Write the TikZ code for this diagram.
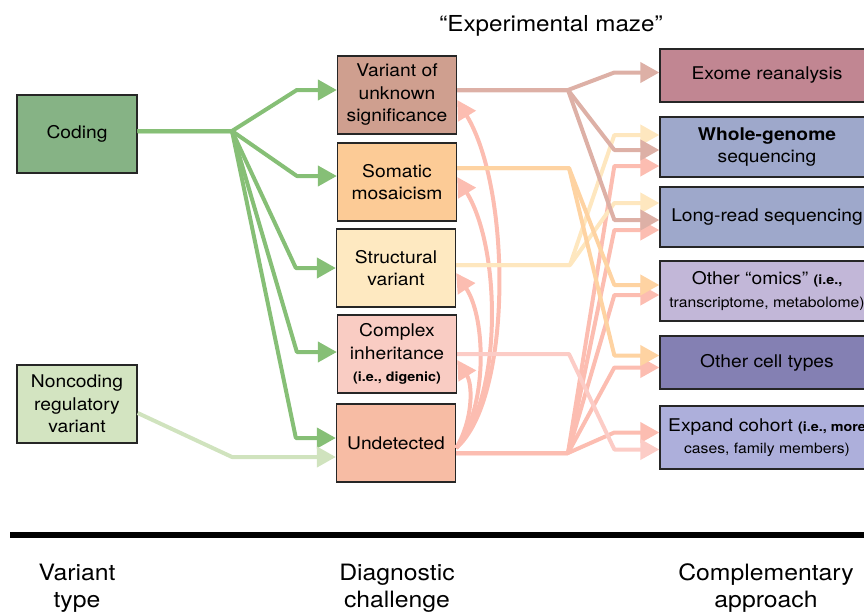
\documentclass[tikz,border=0pt]{standalone}
\usepackage{fontspec}
\setmainfont[FakeStretch=1.1]{TeX Gyre Heros}
\usepackage{xcolor}
\usepackage{tikz}
\usetikzlibrary{arrows.meta}

\definecolor{codingfill}{HTML}{86B385}
\definecolor{noncodingfill}{HTML}{D3E4C1}
\definecolor{vusfill}{HTML}{CF9F8F}
\definecolor{somaticfill}{HTML}{FCCB96}
\definecolor{structfill}{HTML}{FEE9C1}
\definecolor{complexfill}{HTML}{F9CCC3}
\definecolor{undetfill}{HTML}{F7BCA4}
\definecolor{exomefill}{HTML}{C18692}
\definecolor{seqfill}{HTML}{9EA8CB}
\definecolor{omicsfill}{HTML}{C2B7D8}
\definecolor{cellsfill}{HTML}{8480B3}
\definecolor{cohortfill}{HTML}{ADAFDB}

\definecolor{codingline}{HTML}{86BF76}
\definecolor{noncodingline}{HTML}{D0E3BE}
\definecolor{vusline}{HTML}{DDB0A6}
\definecolor{somaticline}{HTML}{FED3A2}
\definecolor{structline}{HTML}{FEE7BF}
\definecolor{complexline}{HTML}{FCCCC6}
\definecolor{undetline}{HTML}{FCBDB1}

\newcommand{\aside}[1]{{\bfseries\fontsize{13}{16}\selectfont #1}}
\newcommand{\detail}[1]{{\fontsize{14.3}{18}\selectfont #1}}

\tikzset{
    box/.style={draw=black!85, line width=1.3pt, inner sep=0pt, align=center,
        font=\fontsize{17.5}{22.5}\selectfont},
    midbox/.style={box, minimum width=119, minimum height=78},
    approach/.style={box, minimum width=214},
    link/.style={line width=4pt, line join=round, -{Triangle[length=19pt,width=20pt]}},
    axislabel/.style={align=center, font=\fontsize{22.5}{27}\selectfont},
}

\begin{document}
\begin{tikzpicture}[x=1pt, y=-1pt]
    \useasboundingbox (0,0) rectangle (864,613);
    \clip (0,0) rectangle (864,613);

    % variant type
    \node[box, fill=codingfill, minimum width=120, minimum height=78] (coding) at (77,134) {Coding};
    \node[box, fill=noncodingfill, minimum width=120, minimum height=78] (noncoding) at (77,404) {Noncoding\\regulatory\\variant};

    % diagnostic challenge
    \node[midbox, fill=vusfill] (vus) at (397,95) {Variant of\\unknown\\significance};
    \node[midbox, fill=somaticfill] (somatic) at (397,182) {Somatic\\mosaicism};
    \node[midbox, fill=structfill] (structural) at (396,268) {Structural\\variant};
    \node[midbox, fill=complexfill] (complex) at (397,354) {Complex\\inheritance\\\aside{(i.e., digenic)}};
    \node[midbox, fill=undetfill] (undetected) at (396,443) {Undetected};

    % complementary approach
    \node[approach, fill=exomefill, minimum height=53] (exome) at (767,75.5) {Exome reanalysis};
    \node[approach, fill=seqfill, minimum height=60] (wgs) at (767,147) {\textbf{Whole-genome}\\sequencing};
    \node[approach, fill=seqfill, minimum height=60] (longread) at (767,217) {Long-read sequencing};
    \node[approach, fill=omicsfill, minimum height=60] (omics) at (767,291) {Other “omics” \aside{(i.e.,}\\\detail{transcriptome, metabolome)}};
    \node[approach, fill=cellsfill, minimum height=53] (celltypes) at (767,362.5) {Other cell types};
    \node[approach, fill=cohortfill, minimum height=63] (cohort) at (767,437.5) {Expand cohort \aside{(i.e., more}\\\detail{cases, family members)}};

    \node[font=\fontsize{22}{26}\selectfont] (maze) at (551,26) {“Experimental maze”};

    % coding -> challenges
    \coordinate (ghub) at (232,131);
    \foreach \target/\dy in {vus/5, somatic/6, structural/0, complex/2, undetected/5}
        \draw[link, codingline] ([yshift=3pt]coding.east) -- (ghub) -- ([shift={(-40pt,\dy pt)}]\target.west) -- ([yshift=\dy pt]\target.west);

    % noncoding -> undetected
    \coordinate (nhub) at (232,457);
    \draw[link, noncodingline] ([yshift=-9pt]noncoding.east) -- (nhub) -- ([yshift=-14pt]undetected.west);

    % undetected -> other challenges
    \draw[link, undetline] ([yshift=-5pt]undetected.east) .. controls (512,400) and (512,190) .. ([yshift=-5pt]vus.east);
    \draw[link, undetline] ([yshift=-5pt]undetected.east) .. controls (502,400) and (502,250) .. ([yshift=5pt]somatic.east);
    \draw[link, undetline] ([yshift=-5pt]undetected.east) .. controls (487,410) and (487,320) .. ([yshift=-5pt]structural.east);
    \draw[link, undetline] ([yshift=-5pt]undetected.east) .. controls (473,420) and (473,385) .. ([yshift=-6pt]complex.east);

    % undetected -> approaches
    \coordinate (uhub) at (568,453);
    \foreach \target/\dy in {wgs/-19, longread/-13, omics/-4, celltypes/-5, cohort/5}
        \draw[link, undetline] ([yshift=-10pt]undetected.east) -- (uhub) -- ([shift={(-45pt,\dy pt)}]\target.west) -- ([yshift=\dy pt]\target.west);

    % complex -> cohort
    \coordinate (chub) at (569,354);
    \draw[link, complexline] (complex.east) -- (chub) -- ([shift={(-45pt,-12pt)}]cohort.west) -- ([yshift=-12pt]cohort.west);

    % structural -> sequencing
    \coordinate (sthub) at (570,265);
    \foreach \target/\dy in {wgs/12, longread/14}
        \draw[link, structline] ([yshift=3pt]structural.east) -- (sthub) -- ([shift={(-45pt,\dy pt)}]\target.west) -- ([yshift=\dy pt]\target.west);

    % somatic -> omics, cell types
    \coordinate (shub) at (569,168);
    \foreach \target/\dy in {omics/6, celltypes/7}
        \draw[link, somaticline] ([yshift=14pt]somatic.east) -- (shub) -- ([shift={(-45pt,\dy pt)}]\target.west) -- ([yshift=\dy pt]\target.west);

    % vus -> exome, sequencing
    \coordinate (vhub) at (568,90);
    \foreach \target/\dy in {exome/3, wgs/-3, longread/-3}
        \draw[link, vusline] ([yshift=5pt]vus.east) -- (vhub) -- ([shift={(-45pt,\dy pt)}]\target.west) -- ([yshift=\dy pt]\target.west);

    % axis
    \draw[line width=6pt] (10,535) -- (870,535);
    \node[axislabel] (vtype) at (77,588) {Variant\\type};
    \node[axislabel] (dchallenge) at (397,588) {Diagnostic\\challenge};
    \node[axislabel] (capproach) at (766,588) {Complementary\\approach};
\end{tikzpicture}
\end{document}
